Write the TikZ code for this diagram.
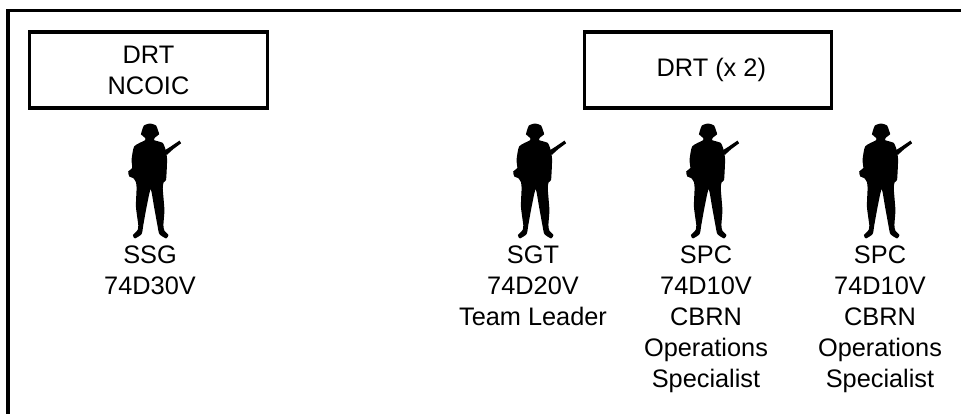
\documentclass[tikz,border=0pt]{standalone}
\usepackage{fontspec}
\setmainfont{Liberation Sans}
\tikzset{
	unitbox/.style={draw,line width=2.3pt,minimum height=57pt,align=center,inner sep=0pt,font=\fontsize{19pt}{23.2pt}\selectfont},
	rolelabel/.style={anchor=north,align=center,inner sep=0pt,font=\fontsize{19pt}{23.2pt}\selectfont},
	soldier/.pic={
		\fill[line join=round] plot[smooth cycle,tension=0.35] coordinates {
			(0,0) (18,6) (25,24) (27,32) (14,43) (13,50) (38,58) (47,80) (51,108) (48,168) (41,175) (38,193)
			(43,258) (40,303) (43,320) (55,333) (48,343) (28,330) (22,303) (12,248) (2,196) (-10,248) (-20,303)
			(-25,330) (-45,343) (-51,333) (-37,318) (-35,303) (-42,248) (-40,193) (-42,175) (-50,163) (-62,158)
			(-65,143) (-53,133) (-55,108) (-47,68) (-15,50) (-15,43) (-27,32) (-25,24) (-18,6)};
		\fill[line join=round] (44,80) -- (60,70) -- (88,51) -- (93,59) -- (70,76) -- (50,94) -- cycle;
	}
}
\begin{document}
\begin{tikzpicture}[x=0.75pt,y=-0.75pt]
	\useasboundingbox (0,0) rectangle (961,414);
	% frame
	\coordinate (framelow) at (8,414);
	\coordinate (framecorner) at (8,10.5);
	\coordinate (frameend) at (961,10.5);
	\draw[line width=2.3pt] (framelow) -- (framecorner) -- (frameend);
	% boxes
	\node[unitbox,minimum width=178.5pt] (ncoic) at (148.5,70) {DRT\\NCOIC};
	\node[unitbox,minimum width=185.5pt] (team) at (708,70) {\hspace{5pt}DRT (x 2)};
	% soldiers
	\foreach \name/\xpos in {ssg/150,sgt/535,spca/708,spcb/881}
	{
		\path (\xpos,123.5) pic[scale=0.335,transform shape] (\name) {soldier};
	}
	% labels
	\node[rolelabel] (ssglabel) at (150,246) {SSG\\74D30V};
	\node[rolelabel] (sgtlabel) at (533,246) {SGT\\74D20V\\Team Leader};
	\node[rolelabel] (spcalabel) at (706,246) {SPC\\74D10V\\CBRN\\Operations\\Specialist};
	\node[rolelabel] (spcblabel) at (880,246) {SPC\\74D10V\\CBRN\\Operations\\Specialist};
\end{tikzpicture}
\end{document}
